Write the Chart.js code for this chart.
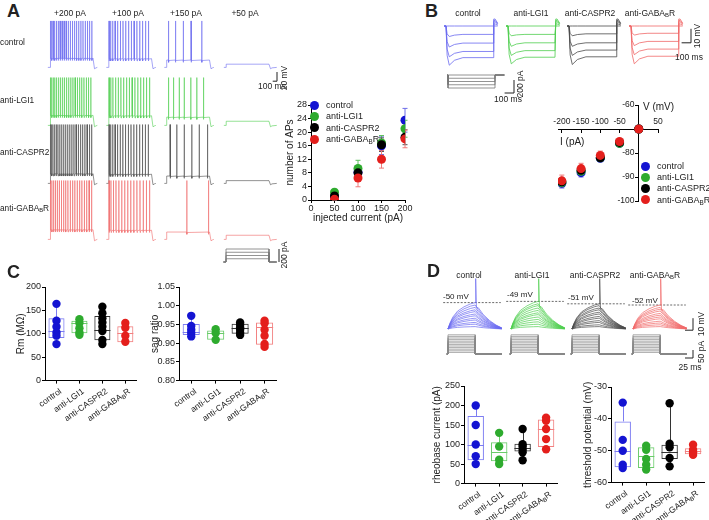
<!DOCTYPE html>
<html>
<head>
<meta charset="utf-8">
<script src="https://cdn.jsdelivr.net/npm/chart.js@4.4.1/dist/chart.umd.min.js"></script>
<style>
html, body { margin: 0; padding: 0; background: #fff; }
#fig { position: relative; width: 709px; height: 520px; overflow: hidden; background: #fff;
  font-family: "Liberation Sans", Arial, Helvetica, sans-serif; color: #222; }
#fig canvas { position: absolute; }
.t { position: absolute; white-space: nowrap; }
.t sub { font-size: 70%; vertical-align: -0.25em; line-height: 0; }
.dot { position: absolute; border-radius: 50%; }
</style>
</head>
<body>
<div id="fig"></div>
<script>
// ---------------- data ----------------
const groupKeys = ['control', 'anti-LGI1', 'anti-CASPR2', 'anti-GABABR'];
const groupHtml = ['control', 'anti-LGI1', 'anti-CASPR2', 'anti-GABA<sub>B</sub>R'];
const groupColors = ['#1414d2', '#2eab2e', '#000000', '#e41f1c'];
const traceColors = ['#6a6af0', '#4fce4f', '#4a4a4a', '#f06868'];
const boxColors = ['#7d7df2', '#6acc6a', '#333333', '#f28080'];
const errColors = ['#6d6de8', '#5cc05c', '#555555', '#f07a7a'];

// A: firing traces
const aStepLabels = ['+200 pA', '+100 pA', '+150 pA', '+50 pA'];
const aRestMv = -70;
const aPlateauMv = [[20, 19, 16, 7], [22, 21, 18, 9], [21, 20, 16, 6], [21, 20, 16, 9]];
const aPeakMv = [31, 34, 58, 58];
const aSpikeTimes = [
  [[8, 35, 68, 105, 145, 188, 232, 278, 325, 372, 420, 468, 517, 566, 615, 665, 715, 765, 815, 866, 918, 970],
   [10, 48, 95, 150, 210, 272, 335, 398, 462, 527, 592, 658, 724, 790, 857, 925],
   [45, 205, 386, 568, 818],
   []],
  [[8, 36, 70, 108, 150, 194, 240, 287, 335, 383, 432, 481, 531, 581, 632, 683, 735, 787, 840, 893, 947],
   [10, 50, 100, 160, 222, 286, 350, 415, 480, 546, 612, 679, 746, 814, 882, 950],
   [42, 158, 291, 407, 562, 702, 856],
   []],
  [[8, 34, 66, 102, 141, 182, 225, 270, 316, 362, 409, 457, 505, 554, 604, 654, 705, 756, 808, 860, 913, 966],
   [10, 48, 96, 150, 208, 268, 330, 393, 457, 521, 586, 652, 718, 785, 852, 920],
   [81, 237, 407, 586, 756, 949],
   []],
  [[8, 40, 78, 120, 165, 212, 261, 311, 362, 414, 467, 520, 574, 628, 683, 738, 794, 850, 906, 962],
   [10, 55, 110, 172, 238, 306, 375, 445, 515, 586, 658, 730, 803, 876, 950],
   [470, 972],
   []]
];
const aStimCurrents = [50, 100, 150, 200];

// A: number of APs
const injCurrent = [50, 100, 150, 200];
const apCount = [[1.0, 8.2, 16.0, 23.5], [2.3, 9.3, 16.8, 21.0], [1.2, 8.0, 16.3, 18.5], [0.2, 6.5, 12.0, 18.0]];
const apErr = [[0.6, 1.8, 2.6, 3.5], [0.6, 2.4, 2.2, 2.5], [0.5, 1.6, 2.0, 2.2], [0.2, 2.6, 2.6, 2.6]];
const apTicksX = [0, 50, 100, 150, 200];
const apTicksY = [0, 4, 8, 12, 16, 20, 24, 28];

// B: I-V
const ivCurrent = [-200, -150, -100, -50, 0];
const ivVolt = [[-92.6, -88.2, -82.2, -76.0, -70.0], [-92.3, -87.6, -82.0, -76.0, -70.0],
                [-92.0, -87.2, -82.0, -75.6, -70.0], [-91.6, -86.5, -81.0, -75.2, -70.0]];
const ivErr = [[2.0, 1.8, 1.4, 1.0, 0.5], [1.8, 1.6, 1.4, 1.0, 0.5], [1.6, 1.5, 1.2, 1.0, 0.5], [2.4, 2.2, 1.8, 1.2, 0.5]];
const ivSagPeak = [[-98, -92, -85, -77.5, -70], [-97, -91, -84.5, -77, -70], [-97.5, -91, -84.5, -77, -70], [-97, -90.5, -84, -76.5, -70]];
const ivRebound = [5, 4, 3, 1.5, 0];
const ivTicksX = [-200, -150, -100, -50, 50];
const ivTicksY = [-100, -90, -80, -60];

// C: passive properties
const rmDots = [[164, 128, 115, 103, 96, 78], [131, 123, 112, 103, 98], [158, 144, 133, 124, 115, 106, 87, 78], [123, 113, 96, 83]];
const rmBox = [[78, 91, 107, 133, 164], [98, 101, 123, 128, 131], [78, 86, 108, 138, 158], [83, 82, 101, 116, 123]];
const rmTicks = [0, 50, 100, 150, 200];
const sagDots = [[0.973, 0.946, 0.936, 0.927, 0.918], [0.937, 0.927, 0.909],
                 [0.955, 0.949, 0.942, 0.936, 0.928, 0.922], [0.960, 0.953, 0.936, 0.920, 0.898, 0.890]];
const sagBox = [[0.918, 0.922, 0.931, 0.951, 0.973], [0.909, 0.909, 0.928, 0.934, 0.937],
                [0.922, 0.925, 0.940, 0.952, 0.955], [0.890, 0.896, 0.944, 0.955, 0.960]];
const sagTicks = [0.80, 0.85, 0.90, 0.95, 1.00, 1.05];

// D: rheobase / threshold
const dThreshold = [-50, -49, -51, -52];
const dBaseMv = -72;
const dSpikePeakMv = -30;
const dAmps = [[2, 4, 5.5, 7.5, 9, 11, 12.5, 14.5, 16, 18, 20, 22],
               [2, 4, 6, 8, 10, 12, 13.5, 15.5, 17.5, 19.5, 21, 23],
               [2, 3.5, 5.5, 7, 9, 10.5, 12.5, 14, 16, 17.5, 19.5, 21],
               [2, 3.5, 5, 6.5, 8.5, 10, 11.5, 13, 15, 16.5, 18, 20]];
const dStimCurrents = [10, 20, 30, 40, 50, 60, 70, 80, 90, 100, 110, 120];
const rheoDots = [[200, 150, 100, 70, 50], [130, 95, 61, 50], [140, 101, 95, 87, 80, 60], [169, 161, 140, 114, 88]];
const rheoBox = [[50, 60, 100, 173, 200], [50, 57, 81, 106, 130], [60, 82, 91, 102, 140], [88, 94, 140, 164, 169]];
const rheoTicks = [0, 50, 100, 150, 200, 250];
const thrDots = [[-34.9, -46.6, -50.0, -54.4, -55.4], [-48.4, -49.7, -52.6, -54.4, -55.9],
                 [-35.1, -47.8, -48.9, -52.3, -54.9], [-48.1, -49.7, -50.5, -51.3]];
const thrBox = [[-55.4, -55.2, -50.0, -40.8, -34.9], [-55.9, -55.4, -51.6, -48.9, -48.4],
                [-54.9, -52.6, -50.5, -48.1, -35.1], [-51.3, -51.1, -50.2, -49.2, -48.1]];
const thrTicks = [-60, -50, -40, -30];

// ---------------- setup ----------------
Chart.defaults.font.family = '"Liberation Sans", Arial, Helvetica, sans-serif';
Chart.defaults.font.size = 9;
Chart.defaults.color = '#222';

const fig = document.getElementById('fig');
const W = 709;

function addCanvas(l, t, w, h) {
  const c = document.createElement('canvas');
  c.width = Math.round(w); c.height = Math.round(h);
  c.style.left = l + 'px'; c.style.top = t + 'px';
  c.style.width = Math.round(w) + 'px'; c.style.height = Math.round(h) + 'px';
  fig.appendChild(c);
  return c;
}

function text(html, x, y, o) {
  o = o || {};
  const size = o.size || 9;
  const d = document.createElement('div');
  d.className = 't';
  d.innerHTML = html;
  d.style.fontSize = size + 'px';
  d.style.lineHeight = Math.round(size * 1.15) + 'px';
  if (o.bold) d.style.fontWeight = 'bold';
  d.style.left = x + 'px';
  d.style.top = y + 'px';
  const ax = o.align === 'center' ? '-50%' : o.align === 'right' ? '-100%' : '0';
  d.style.transform = 'translate(' + ax + ', -50%)' + (o.rot ? ' rotate(' + o.rot + 'deg)' : '');
  fig.appendChild(d);
}

function legend(x, y0, dy, textX) {
  groupHtml.forEach((h, g) => {
    const dot = document.createElement('div');
    dot.className = 'dot';
    dot.style.left = (x - 4.5) + 'px'; dot.style.top = (y0 + g * dy - 4.5) + 'px';
    dot.style.width = '9px'; dot.style.height = '9px';
    dot.style.background = groupColors[g];
    fig.appendChild(dot);
    text(h, textX, y0 + g * dy, {size: 9});
  });
}

// whiskers + median for the box plots
Chart.register({
  id: 'boxWhiskers',
  beforeDatasetsDraw(chart, args, opts) {
    if (!opts || !opts.stats) return;
    const ctx = chart.ctx, y = chart.scales.y, bars = chart.getDatasetMeta(0).data;
    ctx.save();
    ctx.lineWidth = 1;
    opts.stats.forEach((s, i) => {
      const bar = bars[i];
      const x = Math.round(bar.x) + 0.5, hw = bar.width / 2;
      const my = Math.round(y.getPixelForValue(s[2])) + 0.5;
      ctx.strokeStyle = boxColors[i];
      ctx.beginPath();
      ctx.moveTo(x, y.getPixelForValue(s[0])); ctx.lineTo(x, y.getPixelForValue(s[1]));
      ctx.moveTo(x, y.getPixelForValue(s[3])); ctx.lineTo(x, y.getPixelForValue(s[4]));
      ctx.moveTo(bar.x - hw, my); ctx.lineTo(bar.x + hw, my);
      ctx.stroke();
    });
    ctx.restore();
  }
});

// mean +/- SEM bars
Chart.register({
  id: 'errorBars',
  beforeDatasetsDraw(chart) {
    const ctx = chart.ctx;
    chart.data.datasets.forEach((ds, di) => {
      if (!ds.errorBars) return;
      const meta = chart.getDatasetMeta(di);
      const ys = chart.scales[meta.yAxisID];
      ctx.save();
      ctx.strokeStyle = ds.errorColor;
      ctx.lineWidth = 1;
      meta.data.forEach((pt, i) => {
        const v = ds.data[i].y, e = ds.errorBars[i];
        const y1 = ys.getPixelForValue(v + e), y2 = ys.getPixelForValue(v - e);
        ctx.beginPath();
        ctx.moveTo(pt.x, y1); ctx.lineTo(pt.x, y2);
        ctx.moveTo(pt.x - 2.5, y1); ctx.lineTo(pt.x + 2.5, y1);
        ctx.moveTo(pt.x - 2.5, y2); ctx.lineTo(pt.x + 2.5, y2);
        ctx.stroke();
      });
      ctx.restore();
    });
  }
});

const AX_GRID = {drawOnChartArea: false, tickLength: 3, color: '#000', lineWidth: 1};
const AX_BORDER = {color: '#000', width: 1};
const fixedTicks = arr => (s => { s.ticks = arr.map(v => ({value: v})); });

function plainChart(c, datasets, scales) {
  return new Chart(c, {
    type: 'line',
    data: {datasets},
    options: {
      responsive: false, animation: false, events: [],
      layout: {padding: 0},
      plugins: {legend: {display: false}, tooltip: {enabled: false}},
      elements: {point: {radius: 0}, line: {borderWidth: 0.8, tension: 0}},
      scales
    }
  });
}
const hidden = (min, max) => ({type: 'linear', display: false, min, max});
const line = (data, color, width, extra) => Object.assign({data, borderColor: color, borderWidth: width, fill: false, pointRadius: 0}, extra || {});

// ---------------- Panel A traces ----------------
const aLeft = 45, aWidth = 245, aRowH = 80, aTopMv = 70;
const aPxPerMs = 0.043, aPxPerMv = 0.46, aPxPerPa = 0.065;
const aOnsetPx = [50, 108.5, 166.5, 226];
const aBaselinePx = [67.5, 125, 183, 239];

function apTrace(on, plat, peak, spikes, tail) {
  const base = aRestMv, p = base + plat;
  const pts = [{x: on - 50, y: base}, {x: on, y: base}, {x: on + 5, y: p}];
  spikes.forEach(t => {
    pts.push({x: on + t, y: p}, {x: on + t + 2, y: peak}, {x: on + t + 5, y: p - 5}, {x: on + t + 14, y: p - 1});
  });
  pts.push({x: on + 1000, y: p}, {x: on + 1035, y: base - 3}, {x: on + 1070, y: base - 1}, {x: on + 1000 + tail, y: base});
  return pts;
}

aBaselinePx.forEach((bp, r) => {
  const top = bp - (aTopMv - aRestMv) * aPxPerMv;
  const c = addCanvas(aLeft, top, aWidth, aRowH);
  const sets = aStepLabels.map((_, k) => line(
    apTrace((aOnsetPx[k] - aLeft) / aPxPerMs, aPlateauMv[r][k], aPeakMv[r], aSpikeTimes[r][k], k === 3 ? 180 : 100),
    traceColors[r], 0.6));
  if (r === 0) {
    const sx = (277 - aLeft) / aPxPerMs;
    sets.push(line([{x: sx - 100, y: -100}, {x: sx, y: -100}, {x: sx, y: -80}], '#222', 1));
  }
  plainChart(c, sets, {x: hidden(0, aWidth / aPxPerMs), y: hidden(aTopMv - aRowH / aPxPerMv, aTopMv)});
});

(function () {
  const top = 244, h = 22, zeroPx = 262;
  const c = addCanvas(aLeft, top, aWidth, h);
  const on = (aOnsetPx[3] - aLeft) / aPxPerMs;
  const sets = aStimCurrents.map(I => line(
    [{x: on - 60, y: 0}, {x: on, y: 0}, {x: on, y: I}, {x: on + 1000, y: I}, {x: on + 1000, y: 0}, {x: on + 1180, y: 0}],
    '#777', 0.8));
  const sx = (279 - aLeft) / aPxPerMs;
  sets.push(line([{x: sx, y: 0}, {x: sx, y: 200}], '#222', 1));
  const yMax = (zeroPx - top) / aPxPerPa;
  plainChart(c, sets, {x: hidden(0, aWidth / aPxPerMs), y: hidden(yMax - h / aPxPerPa, yMax)});
})();

// ---------------- Panel A: APs vs current ----------------
(function () {
  const area = {l: 311, r: 405, t: 105, b: 200};
  const yW = 27, xH = 24, padT = 8, padR = 8;
  const left = area.l - yW, top = area.t - padT;
  const c = addCanvas(left, top, area.r + padR - left, area.b + xH - top);
  new Chart(c, {
    type: 'line',
    data: {datasets: groupKeys.map((k, g) => ({
      label: k,
      data: injCurrent.map((x, i) => ({x, y: apCount[g][i]})),
      errorBars: apErr[g], errorColor: errColors[g],
      showLine: false, pointRadius: 4.5, pointBackgroundColor: groupColors[g], pointBorderWidth: 0,
      order: 4 - g
    }))},
    options: {
      responsive: false, animation: false, events: [],
      layout: {padding: {top: padT, right: padR, left: 0, bottom: 0}},
      plugins: {legend: {display: false}, tooltip: {enabled: false}},
      scales: {
        x: {type: 'linear', min: 0, max: 200, afterBuildTicks: fixedTicks(apTicksX),
            grid: AX_GRID, border: AX_BORDER,
            ticks: {padding: 0, maxRotation: 0, autoSkip: false},
            title: {display: true, text: 'injected current (pA)', padding: 0, font: {size: 10}},
            afterFit: s => { s.height = xH; }},
        y: {type: 'linear', min: 0, max: 28, afterBuildTicks: fixedTicks(apTicksY),
            grid: AX_GRID, border: AX_BORDER,
            ticks: {padding: 1, autoSkip: false},
            title: {display: true, text: 'number of APs', padding: 0, font: {size: 10}},
            afterFit: s => { s.width = yW; }}
      }
    }
  });
})();
legend(314, 105, 11.4, 326);

// ---------------- Panel B traces ----------------
(function () {
  const left = 440, top = 14, w = 262, h = 86;
  const pxPerMs = 0.094, pxPerMv = 1.4, pxPerPa = 0.065, basePx = 26, stimZeroPx = 75;
  const onsetPx = [446, 508, 569, 631];
  const sagTrace = (on, steady, peak, reb) => [
    {x: on - 20, y: aRestMv}, {x: on, y: aRestMv},
    {x: on + 12, y: aRestMv + (peak - aRestMv) * 0.75}, {x: on + 35, y: peak},
    {x: on + 90, y: steady + (peak - steady) * 0.35}, {x: on + 180, y: steady},
    {x: on + 500, y: steady}, {x: on + 508, y: aRestMv + reb}, {x: on + 522, y: aRestMv + reb},
    {x: on + 550, y: aRestMv + reb * 0.4}];
  const sets = [];
  onsetPx.forEach((px, g) => {
    const on = (px - left) / pxPerMs;
    ivCurrent.forEach((I, j) => sets.push(line(sagTrace(on, ivVolt[g][j], ivSagPeak[g][j], ivRebound[j]), traceColors[g], 0.8)));
  });
  const son = (448 - left) / pxPerMs;
  ivCurrent.forEach(I => sets.push(line(
    [{x: son - 10, y: 0}, {x: son, y: 0}, {x: son, y: I}, {x: son + 500, y: I}, {x: son + 500, y: 0}, {x: son + 600, y: 0}],
    '#777', 0.8, {yAxisID: 'yI'})));
  const vx = (691 - left) / pxPerMs;
  sets.push(line([{x: vx - 100, y: -82}, {x: vx, y: -82}, {x: vx, y: -72}], '#222', 1));
  const ix = (514 - left) / pxPerMs;
  sets.push(line([{x: ix - 100, y: -277}, {x: ix, y: -277}, {x: ix, y: -77}], '#222', 1, {yAxisID: 'yI'}));
  const vMax = aRestMv + (basePx - top) / pxPerMv;
  const iMax = (stimZeroPx - top) / pxPerPa;
  const c = addCanvas(left, top, w, h);
  plainChart(c, sets, {
    x: hidden(0, w / pxPerMs),
    y: hidden(vMax - h / pxPerMv, vMax),
    yI: hidden(iMax - h / pxPerPa, iMax)
  });
})();

// ---------------- Panel B: I-V ----------------
(function () {
  const c = addCanvas(548, 95, 120, 116);
  new Chart(c, {
    type: 'line',
    data: {datasets: groupKeys.map((k, g) => ({
      label: k,
      data: ivCurrent.map((x, i) => ({x, y: ivVolt[g][i]})),
      errorBars: ivErr[g], errorColor: errColors[g],
      showLine: false, pointRadius: 4.5, pointBackgroundColor: groupColors[g], pointBorderWidth: 0,
      order: 4 - g
    }))},
    options: {
      responsive: false, animation: false, events: [],
      layout: {padding: 10},
      plugins: {legend: {display: false}, tooltip: {enabled: false}},
      scales: {
        x: {type: 'linear', min: -210, max: 50, position: {y: -70}, afterBuildTicks: fixedTicks(ivTicksX),
            grid: AX_GRID, border: AX_BORDER,
            ticks: {padding: -15, maxRotation: 0, autoSkip: false, font: {size: 8.5}}},
        // labels of a value-positioned y axis sit on the axis line, so pad them with an en space
        y: {type: 'linear', min: -100, max: -60, position: {x: 0}, afterBuildTicks: fixedTicks(ivTicksY),
            grid: AX_GRID, border: AX_BORDER,
            ticks: {autoSkip: false, font: {size: 8.5}, callback: v => v + '\u2002'}}
      }
    }
  });
})();
text('V (mV)', 643, 107, {size: 10});
text('I (pA)', 560, 142, {size: 10});
legend(645, 166, 11.2, 657);

// ---------------- box plots (C, D) ----------------
function boxPlot(area, yW, title, yMin, yMax, ticks, fmt, dots, stats) {
  const padT = 8, padR = 2, xH = 6;
  const left = area.l - yW, top = area.t - padT;
  const c = addCanvas(left, top, area.r + padR - left, area.b + xH - top);
  const datasets = [{
    type: 'bar', data: stats.map(s => [s[1], s[3]]),
    backgroundColor: 'rgba(0,0,0,0)', borderColor: boxColors, borderWidth: 1, borderSkipped: false,
    barPercentage: 0.7, categoryPercentage: 1, order: 9
  }];
  dots.forEach((arr, g) => datasets.push({
    type: 'line', showLine: false, data: arr.map(v => ({x: groupKeys[g], y: v})),
    pointRadius: 4.2, pointBackgroundColor: groupColors[g], pointBorderWidth: 0, order: 1
  }));
  const chart = new Chart(c, {
    type: 'bar',
    data: {labels: groupKeys, datasets},
    options: {
      responsive: false, animation: false, events: [],
      layout: {padding: {top: padT, right: padR, left: 0, bottom: 0}},
      plugins: {legend: {display: false}, tooltip: {enabled: false}, boxWhiskers: {stats}},
      scales: {
        x: {offset: true, grid: Object.assign({}, AX_GRID, {offset: false}), border: AX_BORDER,
            ticks: {display: false}, afterFit: s => { s.height = xH; }},
        y: {type: 'linear', min: yMin, max: yMax, afterBuildTicks: fixedTicks(ticks),
            grid: AX_GRID, border: AX_BORDER, ticks: {padding: 1, autoSkip: false, callback: fmt},
            title: {display: true, text: title, padding: 0, font: {size: 10}},
            afterFit: s => { s.width = yW; }}
      }
    }
  });
  groupHtml.forEach((h, i) => {
    const px = area.l - yW + chart.scales.x.getPixelForValue(i);
    const d = document.createElement('div');
    d.className = 't';
    d.innerHTML = h;
    d.style.fontSize = '8.5px';
    d.style.lineHeight = '10px';
    d.style.right = (W - px - 1) + 'px';
    d.style.top = (area.b + 5) + 'px';
    d.style.transformOrigin = '100% 0';
    d.style.transform = 'rotate(-35deg)';
    fig.appendChild(d);
  });
  return chart;
}

boxPlot({l: 45, r: 139, t: 287, b: 381}, 30, 'Rm (MΩ)', 0, 200, rmTicks, v => v, rmDots, rmBox);
boxPlot({l: 179, r: 279, t: 287, b: 381}, 30, 'sag ratio', 0.8, 1.05, sagTicks, v => v.toFixed(2), sagDots, sagBox);
boxPlot({l: 464, r: 560, t: 386, b: 484}, 33, 'rheobase current (pA)', 0, 250, rheoTicks, v => v, rheoDots, rheoBox);
boxPlot({l: 611, r: 707, t: 387, b: 483}, 29, 'threshold potential (mV)', -60, -30, thrTicks, v => v, thrDots, thrBox);

// ---------------- Panel D traces ----------------
(function () {
  const left = 440, top = 272, w = 265, h = 100;
  const pxPerMs = 0.32, pxPerMv = 1.2, pxPerPa = 0.16, basePx = 329, stimZeroPx = 354;
  const onsetPx = [448, 511, 572, 633];
  const shapeT = [0, 6, 15, 30, 50, 70, 85, 95, 110, 130, 150, 168];
  const shapeF = [0, 0.22, 0.45, 0.68, 0.84, 0.95, 1, 0.8, 0.55, 0.32, 0.15, 0.04];
  const sets = [];
  onsetPx.forEach((px, g) => {
    const on = (px - left) / pxPerMs;
    const amps = dAmps[g];
    amps.forEach((A, j) => {
      const pts = [];
      shapeT.forEach((t, k) => {
        pts.push({x: on + t, y: dBaseMv + A * shapeF[k]});
        if (j === amps.length - 1 && t === 85) {
          pts.push({x: on + 86.5, y: dSpikePeakMv}, {x: on + 89, y: dThreshold[g] - 4});
        }
      });
      sets.push(line(pts, traceColors[g], 0.7));
    });
    sets.push(line([{x: on - 15, y: dThreshold[g]}, {x: on + 165, y: dThreshold[g]}], '#444', 0.8, {borderDash: [2, 1.5]}));
    dStimCurrents.forEach(I => sets.push(line(
      [{x: on - 4, y: 0}, {x: on, y: 0}, {x: on, y: I}, {x: on + 85, y: I}, {x: on + 85, y: 0}, {x: on + 168, y: 0}],
      '#888', 0.7, {yAxisID: 'yI'})));
  });
  const sx = (693 - left) / pxPerMs;
  sets.push(line([{x: sx - 25, y: -73}, {x: sx, y: -73}, {x: sx, y: -63}], '#222', 1));
  sets.push(line([{x: sx - 25, y: -25}, {x: sx, y: -25}, {x: sx, y: 25}], '#222', 1, {yAxisID: 'yI'}));
  const vMax = dBaseMv + (basePx - top) / pxPerMv;
  const iMax = (stimZeroPx - top) / pxPerPa;
  const c = addCanvas(left, top, w, h);
  plainChart(c, sets, {
    x: hidden(0, w / pxPerMs),
    y: hidden(vMax - h / pxPerMv, vMax),
    yI: hidden(iMax - h / pxPerPa, iMax)
  });
})();

// ---------------- text ----------------
text('A', 7, 11, {size: 18, bold: true});
text('B', 425, 11, {size: 18, bold: true});
text('C', 7, 272, {size: 18, bold: true});
text('D', 427, 271, {size: 18, bold: true});

[70, 128, 186, 245].forEach((x, k) => text(aStepLabels[k], x, 13, {size: 8.5, align: 'center'}));
[42, 100, 152, 208].forEach((y, g) => text(groupHtml[g], 0, y, {size: 8.3}));
text('20 mV', 284, 78, {size: 8.5, align: 'center', rot: -90});
text('100 ms', 272, 86, {size: 8.5, align: 'center'});
text('200 pA', 284, 255, {size: 8.5, align: 'center', rot: -90});

[468, 531, 590, 650].forEach((x, g) => text(groupHtml[g], x, 13, {size: 8.5, align: 'center'}));
text('10 mV', 697, 36, {size: 8.5, align: 'center', rot: -90});
text('100 ms', 689, 57, {size: 8.5, align: 'center'});
text('200 pA', 520, 84, {size: 8.5, align: 'center', rot: -90});
text('100 ms', 508, 99, {size: 8.5, align: 'center'});

[469, 532, 595, 655].forEach((x, g) => text(groupHtml[g], x, 275, {size: 8.5, align: 'center'}));
[[443, 296], [507, 294], [568, 297], [632, 300]].forEach((p, g) => text(dThreshold[g] + ' mV', p[0], p[1], {size: 8}));
text('10 mV', 701, 324, {size: 8.5, align: 'center', rot: -90});
text('50 pA', 701, 352, {size: 8.5, align: 'center', rot: -90});
text('25 ms', 690, 367, {size: 8.5, align: 'center'});
</script>
</body>
</html>
